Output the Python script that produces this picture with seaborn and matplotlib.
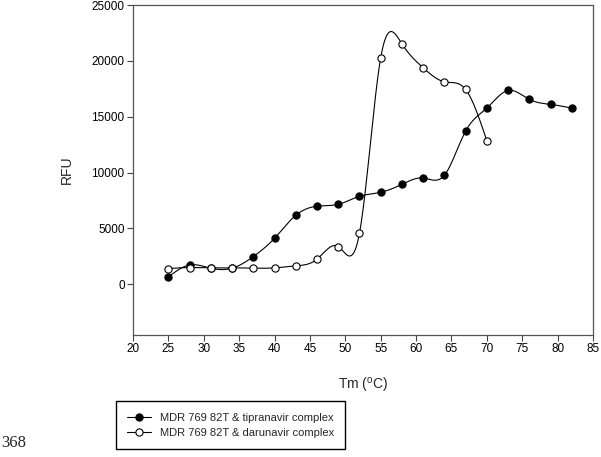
import numpy as np
import matplotlib
matplotlib.use("Agg")
import matplotlib.pyplot as plt
from matplotlib.lines import Line2D
import seaborn as sns

# temperatures (deg C) and fluorescence readings
temp_tip = [25, 28, 31, 34, 37, 40, 43, 46, 49, 52, 55, 58, 61, 64, 67, 70, 73, 76, 79, 82]
rfu_tip = [650, 1720, 1430, 1430, 2470, 4110, 6170, 6980, 7150, 7870,
           8230, 8940, 9510, 9750, 13710, 15770, 17350, 16550, 16100, 15770]

temp_dar = [25, 28, 31, 34, 37, 40, 43, 46, 49, 52, 55, 58, 61, 64, 67, 70]
rfu_dar = [1400, 1490, 1460, 1460, 1430, 1460, 1640, 2240, 3370, 4560,
           20270, 21520, 19380, 18120, 17440, 12840]

labels = ["MDR 769 82T & tipranavir complex", "MDR 769 82T & darunavir complex"]


def natural_spline(x, y, n=600):
    # smooth curve through the points (like the SigmaPlot spline line)
    x = np.asarray(x, float)
    y = np.asarray(y, float)
    k = len(x)
    h = np.diff(x)
    A = np.zeros((k, k))
    b = np.zeros(k)
    A[0, 0] = A[-1, -1] = 1
    for i in range(1, k - 1):
        A[i, i - 1] = h[i - 1]
        A[i, i] = 2 * (h[i - 1] + h[i])
        A[i, i + 1] = h[i]
        b[i] = 6 * ((y[i + 1] - y[i]) / h[i] - (y[i] - y[i - 1]) / h[i - 1])
    M = np.linalg.solve(A, b)
    xs = np.linspace(x[0], x[-1], n)
    idx = np.clip(np.searchsorted(x, xs) - 1, 0, k - 2)
    x0, x1 = x[idx], x[idx + 1]
    hh = x1 - x0
    t1 = x1 - xs
    t0 = xs - x0
    ys = (M[idx] * t1 ** 3 + M[idx + 1] * t0 ** 3) / (6 * hh) \
        + (y[idx] / hh - M[idx] * hh / 6) * t1 \
        + (y[idx + 1] / hh - M[idx + 1] * hh / 6) * t0
    return xs, ys


sns.set_style("ticks")
plt.rcParams['font.family'] = ['Liberation Sans', 'DejaVu Sans']

fig = plt.figure(figsize=(6.01, 4.57), dpi=100)
ax = fig.add_axes([0.2213, 0.267, 0.7654, 0.722])

for temps, vals, face in [(temp_tip, rfu_tip, 'black'), (temp_dar, rfu_dar, 'white')]:
    xs, ys = natural_spline(temps, vals)
    sns.lineplot(x=xs, y=ys, ax=ax, color='black', lw=0.8, sort=False)
    ax.plot(temps, vals, 'o', ms=5.2, mfc=face, mec='black', mew=0.8, zorder=3)

ax.set_xlim(20, 85)
ax.set_ylim(-4550, 25000)
ax.set_xticks(range(20, 86, 5))
ax.set_yticks(range(0, 25001, 5000))
ax.tick_params(direction='out', length=4, width=0.8, labelsize=8.5, pad=2, colors='#444444',
               labelcolor='black')
for s in ax.spines.values():
    s.set_visible(True)
    s.set_color('#555555')
    s.set_linewidth(0.9)

ax.set_xlabel("Tm ($\\mathregular{^o}$C)", fontsize=10, labelpad=15)
ax.set_ylabel("RFU", fontsize=10, labelpad=13)

handles = [Line2D([], [], color='black', lw=0.8, marker='o', ms=5.2, mfc='black', mec='black', mew=0.8),
           Line2D([], [], color='black', lw=0.8, marker='o', ms=5.2, mfc='white', mec='black', mew=0.8)]
fig.legend(handles, labels, loc='lower left', bbox_to_anchor=(0.183, 0.006), fontsize=8,
           frameon=True, fancybox=False, edgecolor='black', framealpha=1,
           handlelength=2.2, handletextpad=0.8, borderpad=1.0, labelspacing=0.45)

fig.text(0.002, 0.022, "368", fontsize=12, family='Liberation Serif', ha='left', va='baseline')

fig.savefig("out.png", dpi=100)
